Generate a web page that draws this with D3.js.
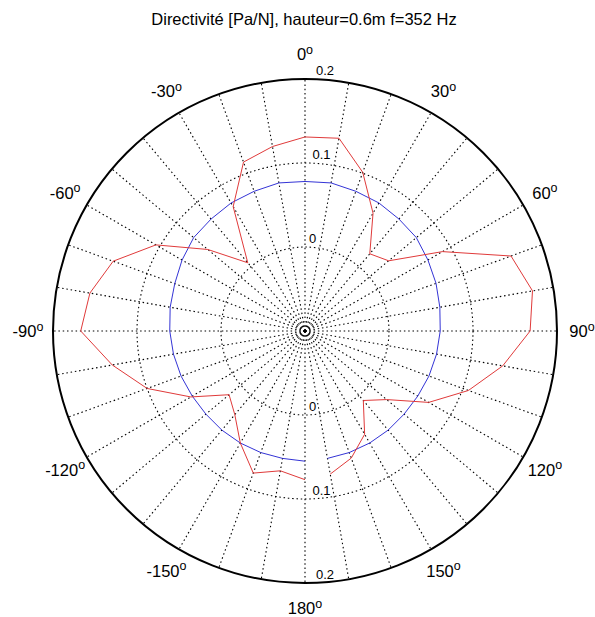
<!DOCTYPE html>
<html><head><meta charset="utf-8">
<script src="https://cdn.jsdelivr.net/npm/d3@7"></script>
<style>body{margin:0;background:#fff} text{font-family:Arial,"Liberation Sans",Helvetica,sans-serif}</style>
</head><body><svg id="c" width="595" height="617"></svg>
<script>
// ---- data ----
const title = "Directivité [Pa/N], hauteur=0.6m f=352 Hz";
const angles = [-180,-170,-160,-150,-140,-130,-120,-110,-100,-90,-80,-70,-60,-50,-40,-30,-20,-10,
                0,10,20,30,40,50,60,70,80,90,100,110,120,130,140,150,160,170];
const redValues = [0.077,0.069,0.080,0.054,0.030,0.018,0.057,0.100,0.133,0.167,0.160,0.143,0.105,0.051,0.006,0.071,0.114,0.123,
                   0.131,0.133,0.101,0.062,0.020,0.030,0.089,0.161,0.175,0.168,0.139,0.107,0.070,0.027,0.008,0.042,0.061,0.073];
const blueValues = [0.055,0.054,0.054,0.054,0.054,0.054,0.055,0.057,0.059,0.061,0.063,0.065,0.069,0.073,0.074,0.076,0.077,0.079,
                    0.078,0.079,0.077,0.076,0.074,0.073,0.069,0.066,0.063,0.061,0.059,0.057,0.055,0.054,0.054,0.054,0.054,0.054];
const ringTicks = [0, 0.1, 0.2];
const ringTickLabels = ["0", "0.1", "0.2"];
const radialDomain = [-0.1, 0.2];
const angleTicks = [0,30,60,90,120,150,180,-150,-120,-90,-60,-30];
const spokeAngles = d3.range(0, 360, 10);

// ---- layout ----
const cx = 305, cy = 331, R = 252;
const svg = d3.select('#c');
const r = d3.scaleLinear().domain(radialDomain).range([0, R]);
const ang = d3.scaleLinear().domain([0, 360]).range([0, 2 * Math.PI]);

svg.append('text').attr('x', 304).attr('y', 25).attr('text-anchor', 'middle')
  .attr('font-size', 16.5).attr('fill', '#000').text(title);

const g = svg.append('g').attr('transform', `translate(${cx},${cy})`);

// dotted rings
g.selectAll('circle.ring').data(ringTicks.slice(0, -1)).join('circle')
  .attr('class', 'ring').attr('r', d => r(d)).attr('fill', 'none')
  .attr('stroke', '#000').attr('stroke-width', 1.1).attr('stroke-dasharray', '1.5,2.8');

// dotted spokes
g.selectAll('line.spoke').data(spokeAngles).join('line')
  .attr('class', 'spoke')
  .attr('x1', 0).attr('y1', 0)
  .attr('x2', d => R * Math.sin(ang(d))).attr('y2', d => -R * Math.cos(ang(d)))
  .attr('stroke', '#000').attr('stroke-width', 1.1).attr('stroke-dasharray', '1.5,2.8');

// outer circle
g.append('circle').attr('r', R).attr('fill', 'none').attr('stroke', '#000').attr('stroke-width', 2);

// data lines
const radial = d3.lineRadial().angle((d, i) => ang(angles[i])).radius(d => r(d));
g.append('path').datum(blueValues).attr('d', radial).attr('fill', 'none')
  .attr('stroke', '#3434d6').attr('stroke-width', 1);
g.append('path').datum(redValues).attr('d', radial).attr('fill', 'none')
  .attr('stroke', '#e03a3a').attr('stroke-width', 1);

// radial tick labels (top and bottom)
[-1, 1].forEach(side => {
  g.selectAll(null).data(ringTicks).join('text')
    .attr('x', d => 0.5 + r(d) / 24)
    .attr('y', d => side * r(d) - 4)
    .attr('font-size', 13).attr('fill', '#000')
    .text((d, i) => ringTickLabels[i]);
});

// angle labels
const L = 277;
const at = g.selectAll('text.ang').data(angleTicks).join('text')
  .attr('class', 'ang')
  .attr('x', d => L * Math.sin(ang(d)))
  .attr('y', d => -L * Math.cos(ang(d)) + 6)
  .attr('text-anchor', 'middle').attr('font-size', 16.5).attr('fill', '#000');
at.append('tspan').text(d => String(d));
at.append('tspan').attr('font-size', 12.5).attr('dy', -6.5).text('o');
</script></body></html>
